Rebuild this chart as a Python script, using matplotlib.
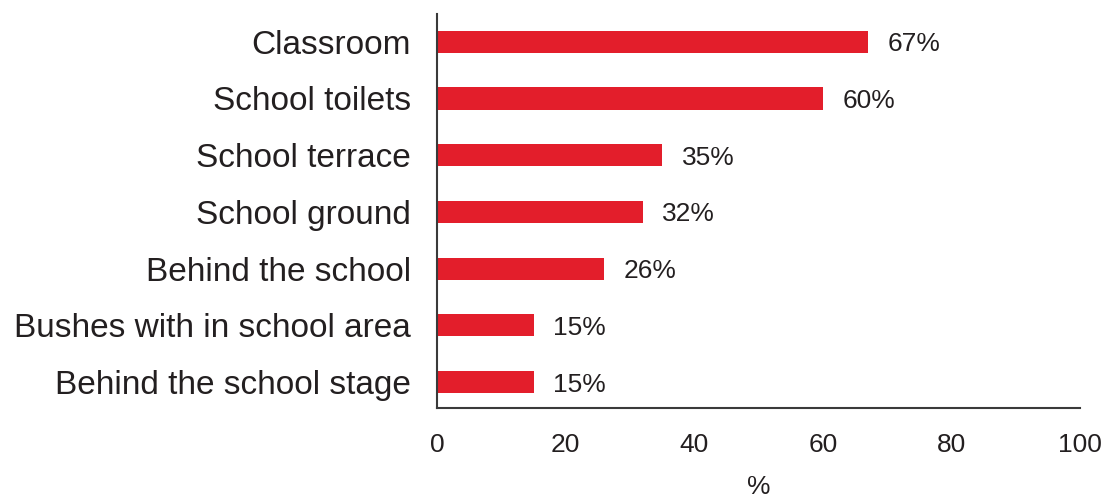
import matplotlib.pyplot as plt
import numpy as np

plt.rcParams['font.family'] = ['Liberation Sans', 'DejaVu Sans']

# 数据
places = ['Behind the school stage', 'Bushes with in school area', 'Behind the school',
          'School ground', 'School terrace', 'School toilets', 'Classroom']
percents = [15, 15, 26, 32, 35, 60, 67]
xticks = [0, 20, 40, 60, 80, 100]

bar_color = '#e31e2b'
text_color = '#231f20'

fig = plt.figure(figsize=(11.01, 4.99), dpi=100)
ax = fig.add_axes([0.397, 0.182, 0.584, 0.790])

y = np.arange(len(places))
ax.barh(y, percents, height=0.39, color=bar_color)

for yi, v in zip(y, percents):
    ax.annotate('{}%'.format(v), xy=(v, yi), xytext=(14, 0), textcoords='offset points',
                ha='left', va='center_baseline', fontsize=19, color=text_color)

ax.set_xlim(0, 100)
ax.set_ylim(-0.46, 6.49)
ax.set_xticks(xticks)
ax.set_yticks(y)
ax.set_yticklabels(places)
ax.tick_params(axis='y', length=0, pad=19, labelsize=24, labelcolor=text_color)
ax.tick_params(axis='x', length=0, pad=18, labelsize=19, labelcolor=text_color)
ax.set_xlabel('%', fontsize=19, color=text_color, labelpad=13)

for s in ['top', 'right']:
    ax.spines[s].set_visible(False)
for s in ['left', 'bottom']:
    ax.spines[s].set_color('#3a3a3a')
    ax.spines[s].set_linewidth(1.5)

fig.savefig('out.png', dpi=100)
